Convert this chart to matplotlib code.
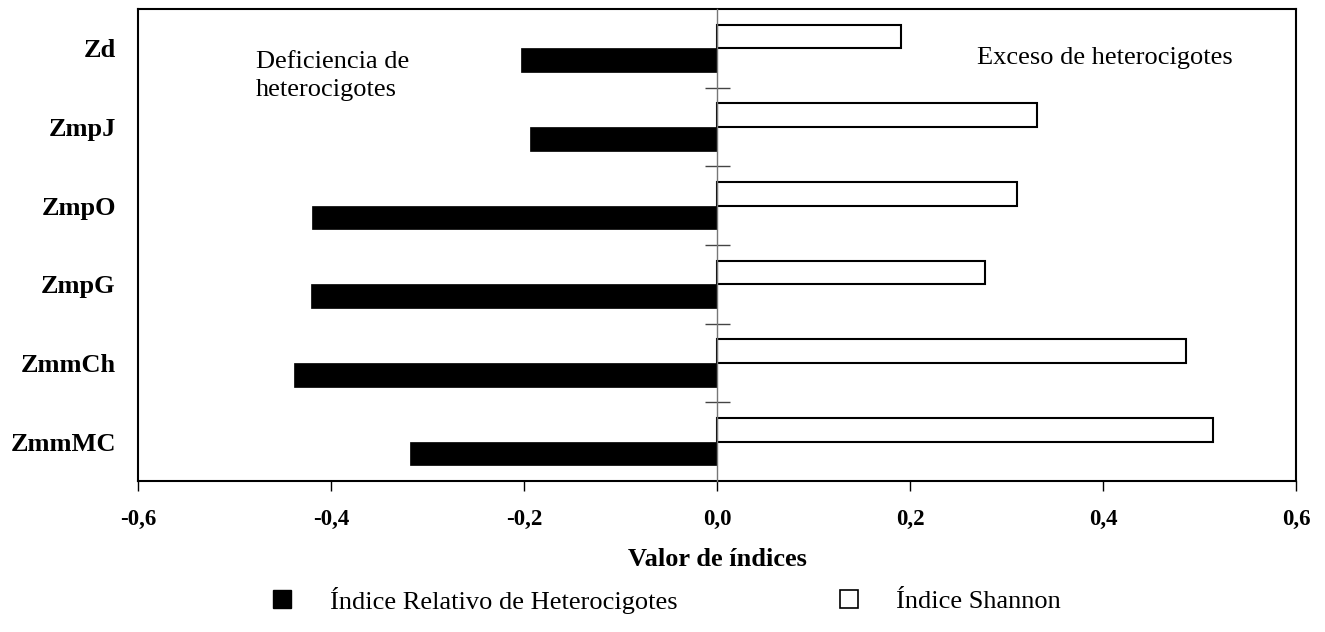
import matplotlib
matplotlib.use('Agg')
import matplotlib.pyplot as plt
from matplotlib.lines import Line2D
import numpy as np

plt.rcParams['font.family'] = ['Liberation Serif', 'DejaVu Serif']

# datos (de arriba hacia abajo)
poblaciones = ['Zd', 'ZmpJ', 'ZmpO', 'ZmpG', 'ZmmCh', 'ZmmMC']
indice_relativo = [-0.203, -0.194, -0.420, -0.421, -0.438, -0.318]
indice_shannon = [0.191, 0.332, 0.311, 0.278, 0.486, 0.514]
xticks = [-0.6, -0.4, -0.2, 0.0, 0.2, 0.4, 0.6]
xtick_labels = ['-0,6', '-0,4', '-0,2', '0,0', '0,2', '0,4', '0,6']

W, H = 1325, 632
fig = plt.figure(figsize=(W / 100, H / 100), dpi=100)
ax = fig.add_axes([138 / W, 1 - 481 / H, (1296 - 138) / W, (481 - 9) / H])

y = np.arange(len(poblaciones))
h = 0.30
ax.barh(y + h / 2, indice_relativo, height=h, color='black', edgecolor='black', linewidth=0.5)
ax.barh(y - h / 2, indice_shannon, height=h, color='white', edgecolor='black', linewidth=1.5)

ax.set_xlim(-0.6, 0.6)
ax.set_ylim(len(poblaciones) - 0.5, -0.5)
ax.set_xticks(xticks)
ax.set_xticklabels(xtick_labels, fontsize=16.5, fontweight='bold')
ax.tick_params(axis='x', direction='out', length=7, width=1, pad=13)
ax.set_yticks(y)
ax.set_yticklabels(poblaciones, fontsize=19, fontweight='bold')
ax.tick_params(axis='y', length=0, pad=16)
for s in ax.spines.values():
    s.set_linewidth(1.5)
    s.set_color('black')
ax.set_xlabel('Valor de índices', fontsize=19, fontweight='bold', labelpad=13)

# eje de categorías en x = 0
ax2 = ax.twinx()
ax2.set_ylim(ax.get_ylim())
for k in ['top', 'bottom', 'left']:
    ax2.spines[k].set_visible(False)
ax2.spines['right'].set_position(('data', 0))
ax2.spines['right'].set_color('#777777')
ax2.spines['right'].set_linewidth(1)
ax2.set_yticks(np.arange(len(poblaciones) - 1) + 0.5)
ax2.tick_params(axis='y', direction='inout', length=18, width=1, color='#444444',
                labelright=False)

# anotaciones (posiciones en pixeles desde arriba)
fig.text(256 / W, 1 - 76 / H, 'Deficiencia de\nheterocigotes', fontsize=19,
         ha='left', va='center', linespacing=1.3)
fig.text(977 / W, 1 - 58 / H, 'Exceso de heterocigotes', fontsize=19,
         ha='left', va='center')

handles = [Line2D([], [], marker='s', linestyle='none', markersize=13,
                  markerfacecolor='black', markeredgecolor='black'),
           Line2D([], [], marker='s', linestyle='none', markersize=13,
                  markerfacecolor='white', markeredgecolor='black', markeredgewidth=1.2)]
fig.legend(handles, ['Índice Relativo de Heterocigotes', 'Índice Shannon'],
           loc='center', bbox_to_anchor=(0.502, 1 - 600 / H), ncol=2, frameon=False,
           fontsize=19, handlelength=1.0, handletextpad=1.3, columnspacing=6.0)

fig.savefig('out.png', dpi=100)
